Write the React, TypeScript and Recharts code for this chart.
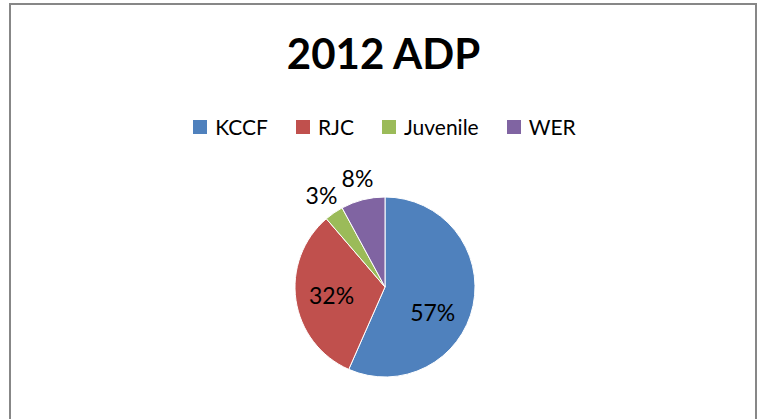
import { PieChart, Pie, Cell } from "recharts";

// 2012 average daily population split
const facilities = ["KCCF", "RJC", "Juvenile", "WER"];
const shares = [56.6, 32.1, 3.4, 7.9];
const colors = ["#4F81BD", "#C0504D", "#9BBB59", "#8064A2"];

const chartData = facilities.map((name, i) => ({ name, value: shares[i] }));

const FONT = "Lato, 'Open Sans', sans-serif";
const RADIAN = Math.PI / 180;

const renderLabel = (props: any) => {
  const { cx, cy, midAngle, outerRadius, percent, index } = props;
  const small = percent < 0.1;
  // big slices get labels inside, thin ones outside (like Excel best fit)
  const r = small ? outerRadius + 22 : outerRadius * 0.6;
  const a = index === 0 ? midAngle - 16 : midAngle;
  const x = cx + r * Math.cos(-a * RADIAN);
  const y = cy + r * Math.sin(-a * RADIAN);
  return (
    <text
      x={x}
      y={y}
      fill="#000"
      fontSize={23}
      fontFamily={FONT}
      textAnchor="middle"
      dominantBaseline="central"
    >
      {`${Math.round(percent * 100)}%`}
    </text>
  );
};

const ChartLegend = () => (
  <div
    style={{
      position: "absolute",
      top: 114,
      left: 0,
      width: 759,
      display: "flex",
      justifyContent: "center",
      alignItems: "center",
      paddingLeft: 10,
      boxSizing: "border-box",
      fontFamily: FONT,
      fontSize: 21,
      color: "#000",
    }}
  >
    {facilities.map((name, i) => (
      <div
        key={name}
        style={{ display: "flex", alignItems: "center", marginRight: i < facilities.length - 1 ? 28 : 0 }}
      >
        <span
          style={{ width: 14, height: 14, background: colors[i], display: "inline-block", marginRight: 8 }}
        />
        <span>{name}</span>
      </div>
    ))}
  </div>
);

export default function App() {
  return (
    <div
      style={{
        position: "absolute",
        left: 0,
        top: 0,
        width: 759,
        height: 419,
        overflow: "hidden",
        background: "#fff",
      }}
    >
      <div
        style={{
          position: "absolute",
          left: 9,
          top: 3,
          width: 744,
          height: 440,
          border: "2px solid #878787",
        }}
      />
      <div
        style={{
          position: "absolute",
          left: 0,
          top: 28,
          width: 767,
          textAlign: "center",
          fontFamily: FONT,
          fontWeight: 700,
          fontSize: 42,
          lineHeight: 1.2,
          color: "#000",
        }}
      >
        2012 ADP
      </div>
      <ChartLegend />
      <div style={{ position: "absolute", left: 0, top: 0 }}>
        <PieChart width={759} height={419} margin={{ top: 0, right: 0, bottom: 0, left: 0 }}>
          <Pie
            data={chartData}
            dataKey="value"
            nameKey="name"
            cx={385}
            cy={287}
            outerRadius={90}
            startAngle={90}
            endAngle={-270}
            stroke="#fff"
            strokeWidth={1}
            label={renderLabel}
            labelLine={false}
            isAnimationActive={false}
          >
            {chartData.map((d, i) => (
              <Cell key={d.name} fill={colors[i]} />
            ))}
          </Pie>
        </PieChart>
      </div>
    </div>
  );
}
